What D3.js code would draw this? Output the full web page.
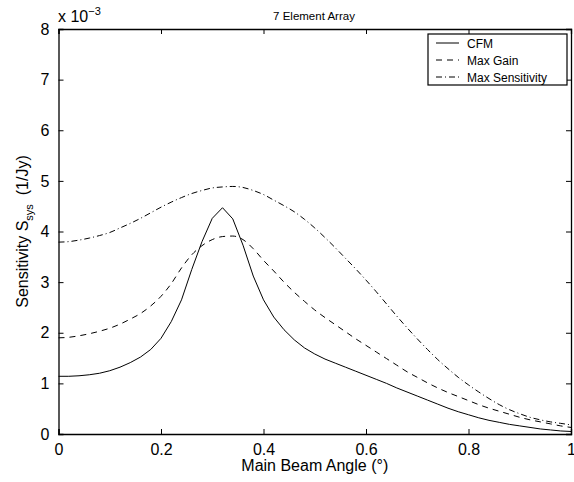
<!DOCTYPE html>
<html>
<head>
<meta charset="utf-8">
<script src="https://cdn.jsdelivr.net/npm/d3@7"></script>
<style>
  body { margin: 0; background: #fff; overflow: hidden; }
  svg { font-family: "Liberation Sans", Arial, sans-serif; display: block; }
</style>
</head>
<body>
<div class="vis"></div>
<script>
const angles = d3.range(0, 51).map(i => i / 50);

const cfm = [1.14, 1.14, 1.15, 1.17, 1.20, 1.25, 1.32, 1.41, 1.52, 1.67,
  1.89, 2.22, 2.65, 3.25, 3.80, 4.26, 4.47, 4.25, 3.73, 3.12,
  2.65, 2.31, 2.06, 1.86, 1.70, 1.58, 1.48, 1.40, 1.32, 1.24,
  1.16, 1.08, 1.00, 0.91, 0.83, 0.75, 0.67, 0.59, 0.51, 0.44,
  0.38, 0.32, 0.27, 0.23, 0.19, 0.16, 0.13, 0.10, 0.08, 0.06, 0.05];

const maxGain = [1.90, 1.91, 1.94, 1.98, 2.03, 2.09, 2.17, 2.27, 2.38, 2.53,
  2.72, 2.97, 3.28, 3.54, 3.72, 3.84, 3.90, 3.91, 3.84, 3.66,
  3.43, 3.22, 3.00, 2.80, 2.62, 2.45, 2.30, 2.16, 2.02, 1.88,
  1.75, 1.62, 1.49, 1.36, 1.23, 1.12, 1.01, 0.91, 0.82, 0.74,
  0.66, 0.58, 0.51, 0.45, 0.39, 0.33, 0.28, 0.24, 0.20, 0.16, 0.13];

const maxSens = [3.79, 3.80, 3.83, 3.87, 3.92, 3.98, 4.07, 4.16, 4.26, 4.37,
  4.48, 4.58, 4.67, 4.75, 4.81, 4.86, 4.88, 4.89, 4.87, 4.81,
  4.73, 4.62, 4.51, 4.39, 4.24, 4.07, 3.88, 3.68, 3.47, 3.26,
  3.04, 2.81, 2.57, 2.33, 2.10, 1.88, 1.67, 1.47, 1.29, 1.12,
  0.97, 0.83, 0.70, 0.58, 0.48, 0.40, 0.33, 0.28, 0.24, 0.21, 0.18];

const seriesNames = ['CFM', 'Max Gain', 'Max Sensitivity'];
const xTicks = [0, 0.2, 0.4, 0.6, 0.8, 1];
const yTicks = [0, 1, 2, 3, 4, 5, 6, 7, 8];

const width = 574, height = 482;
const margin = { top: 29, right: 3, bottom: 48, left: 58.5 };
const innerWidth = width - margin.left - margin.right;
const innerHeight = height - margin.top - margin.bottom;

const svg = d3.select('.vis').append('svg')
  .attr('width', width).attr('height', height);

const g = svg.append('g')
  .attr('transform', `translate(${margin.left},${margin.top})`);

const xScale = d3.scaleLinear().domain([0, 1]).range([0, innerWidth]);
const yScale = d3.scaleLinear().domain([0, 8]).range([innerHeight, 0]);

// curves: CFM keeps its sharp sampled peak, the other two are smooth
const dashes = ['none', '6,5', '6,3,1,3'];
const curves = [d3.curveLinear, d3.curveMonotoneX, d3.curveMonotoneX];
const series = [cfm, maxGain, maxSens];

series.forEach((s, k) => {
  const line = d3.line()
    .x((d, i) => xScale(angles[i]))
    .y(d => yScale(d))
    .curve(curves[k]);
  g.append('path')
    .datum(s)
    .attr('d', line)
    .attr('fill', 'none')
    .attr('stroke', '#000')
    .attr('stroke-width', 1)
    .attr('stroke-dasharray', dashes[k]);
});

// axes, ticks inward on all four sides
const xAxis = d3.axisBottom(xScale).tickValues(xTicks).tickSize(-5).tickPadding(10)
  .tickFormat(d => d === 0 || d === 1 ? d : d3.format('.1f')(d));
const yAxis = d3.axisLeft(yScale).tickValues(yTicks).tickSize(-5).tickPadding(9);

const xAxisG = g.append('g').attr('transform', `translate(0,${innerHeight})`).call(xAxis);
const yAxisG = g.append('g').call(yAxis);
const topG = g.append('g').call(d3.axisTop(xScale).tickValues(xTicks).tickSize(-5));
const rightG = g.append('g').attr('transform', `translate(${innerWidth},0)`)
  .call(d3.axisRight(yScale).tickValues(yTicks).tickSize(-5));
topG.selectAll('text').remove();
rightG.selectAll('text').remove();

g.selectAll('.domain').attr('stroke', '#000').attr('stroke-width', 1.3);
g.selectAll('.tick line').attr('stroke', '#000');
[xAxisG, yAxisG].forEach(a => a.selectAll('text')
  .attr('fill', '#000').style('font-size', '16px')
  .style('font-family', '"Liberation Sans", Arial, sans-serif'));

// exponent label
const expo = svg.append('text').attr('x', 58).attr('y', 22)
  .style('font-size', '16px');
expo.append('tspan').text('x 10');
expo.append('tspan').attr('dy', -7).style('font-size', '11px').text('\u22123');

// title
svg.append('text').attr('x', 314).attr('y', 20)
  .attr('text-anchor', 'middle').style('font-size', '11.5px')
  .text('7 Element Array');

// x label
svg.append('text').attr('x', margin.left + innerWidth / 2).attr('y', 471)
  .attr('text-anchor', 'middle').style('font-size', '16px')
  .text('Main Beam Angle (\u00b0)');

// y label
const yl = svg.append('text')
  .attr('transform', `translate(28,${margin.top + innerHeight / 2}) rotate(-90)`)
  .attr('text-anchor', 'middle').style('font-size', '16px');
yl.append('tspan').text('Sensitivity S');
yl.append('tspan').attr('dy', 5).style('font-size', '11px').text('sys');
yl.append('tspan').attr('dy', -5).text('\u00a0 (1/Jy)');

// legend
const legend = svg.append('g').attr('transform', 'translate(428,34)');
legend.append('rect').attr('width', 139).attr('height', 51)
  .attr('fill', '#fff').attr('stroke', '#000').attr('stroke-width', 1.2);
seriesNames.forEach((name, i) => {
  const row = legend.append('g').attr('transform', `translate(0,${9 + i * 17})`);
  row.append('line').attr('x1', 8).attr('x2', 31).attr('y1', 0).attr('y2', 0)
    .attr('stroke', '#000').attr('stroke-dasharray', dashes[i]);
  row.append('text').attr('x', 39).attr('y', 4.5)
    .style('font-size', '12px').text(name);
});
</script>
</body>
</html>
